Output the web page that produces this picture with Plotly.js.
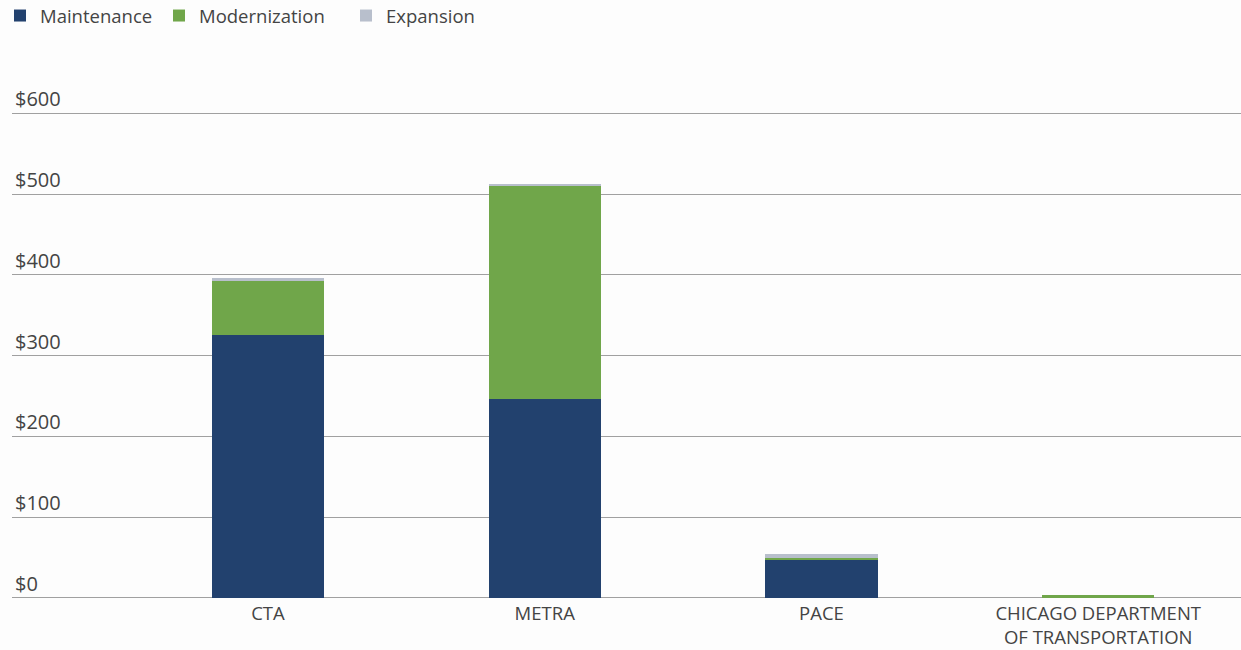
<!DOCTYPE html>
<html>
<head>
<meta charset="utf-8">
<script src="https://cdn.plot.ly/plotly-3.0.1.min.js"></script>
<style>html,body{margin:0;padding:0;background:#fdfdfd;}#chart{width:1241px;height:650px;}</style>
</head>
<body>
<div id="chart"></div>
<script>
const categories = ["CTA", "METRA", "PACE", "CHICAGO DEPARTMENT<br>OF TRANSPORTATION"];
const maintenance = [325, 246, 47, 0];
const modernization = [67, 264, 3, 4];
const expansion = [4, 3, 4, 0];
const yTickVals = [0, 100, 200, 300, 400, 500, 600];
const yTickText = ["$0", "$100", "$200", "$300", "$400", "$500", "$600"];

const idx = categories.map((c, i) => i);
const mk = (name, y, color, lg) => ({
  type: "bar", name: name, x: idx, y: y, width: 0.405, legend: lg,
  marker: {color: color, line: {width: 0}}, hoverinfo: "y+name"
});
const data = [
  mk("Maintenance", maintenance, "#22416e", "legend"),
  mk("Modernization", modernization, "#70a64a", "legend2"),
  mk("Expansion", expansion, "#b8bfcc", "legend3")
];
const lg = (xpx) => ({orientation: "h", xref: "container", yref: "container", x: xpx / 1241, y: 1 - 16 / 650,
  xanchor: "left", yanchor: "middle", bgcolor: "rgba(0,0,0,0)", itemwidth: 30,
  font: {size: 18.5, color: "#444", family: "'Open Sans', sans-serif"}, itemclick: false, itemdoubleclick: false});
const layout = {
  width: 1241, height: 650,
  barmode: "stack",
  paper_bgcolor: "#fdfdfd", plot_bgcolor: "#fdfdfd",
  margin: {l: 12, r: 0, t: 81, b: 50},
  font: {family: "'Open Sans', sans-serif", color: "#444", size: 19},
  showlegend: true,
  legend: lg(-9), legend2: lg(159), legend3: lg(346),
  xaxis: {range: [-0.925, 3.516], tickvals: idx, ticktext: categories, showgrid: false, zeroline: false,
          showline: false, ticks: "", ticklabelstandoff: 0, tickfont: {size: 18.5, color: "#444"}},
  yaxis: {range: [-2.5, 640], tickvals: yTickVals, ticktext: yTickText, showgrid: true, gridcolor: "#a0a0a0",
          gridwidth: 1, zeroline: true, zerolinecolor: "#a0a0a0", zerolinewidth: 1,
          ticklabelposition: "inside top", ticklabelshift: 1.5, tickfont: {size: 20, color: "#444"}, ticks: ""}
};
Plotly.newPlot("chart", data, layout, {displayModeBar: false, staticPlot: true});
</script>
</body>
</html>
